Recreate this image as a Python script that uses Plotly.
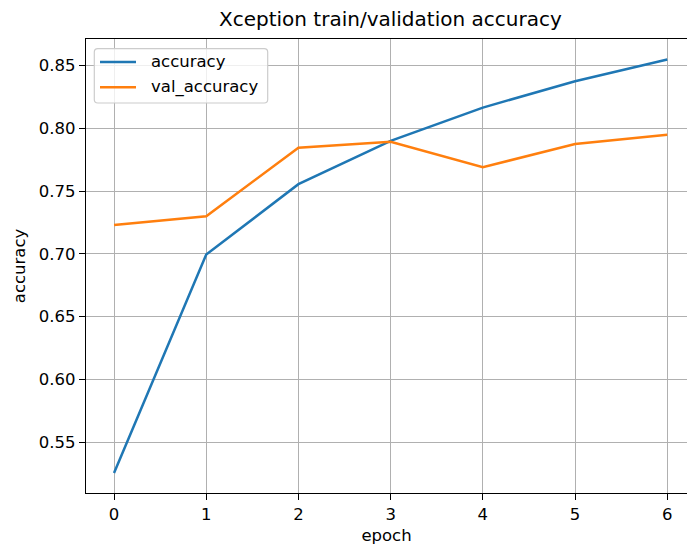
import plotly.graph_objects as go

epochs = [0, 1, 2, 3, 4, 5, 6]
accuracy = [0.5255, 0.6995, 0.7555, 0.7900, 0.8165, 0.8375, 0.8548]
val_accuracy = [0.7230, 0.7300, 0.7845, 0.7893, 0.7690, 0.7875, 0.7948]
x_ticks = [0, 1, 2, 3, 4, 5, 6]
y_ticks = [0.55, 0.60, 0.65, 0.70, 0.75, 0.80, 0.85]
series_names = ["accuracy", "val_accuracy"]
series_colors = ["#1f77b4", "#ff7f0e"]

FONT = "DejaVu Sans"
FS = 16.5
W, H = 687, 547
ML, MR, MT, MB = 86, 0, 39, 54
PW, PH = W - ML - MR, H - MT - MB


def px(xp):
    return (xp - ML) / PW


def py(yp):
    return (H - MB - yp) / PH


fig = go.Figure()
for name, vals, col in zip(series_names, [accuracy, val_accuracy], series_colors):
    fig.add_trace(go.Scatter(x=epochs, y=vals, mode="lines", name=name,
                             line=dict(color=col, width=2.5), showlegend=False))

# manual legend (matplotlib-like)
bx0, bx1, by0, by1, r = 94.3, 267.7, 48.7, 103.0, 3.5
rx, ry = r / PW, r / PH
X0, X1, Y0, Y1 = px(bx0), px(bx1), py(by1), py(by0)
path = (f"M {X0+rx},{Y0} L {X1-rx},{Y0} Q {X1},{Y0} {X1},{Y0+ry} "
        f"L {X1},{Y1-ry} Q {X1},{Y1} {X1-rx},{Y1} L {X0+rx},{Y1} "
        f"Q {X0},{Y1} {X0},{Y1-ry} L {X0},{Y0+ry} Q {X0},{Y0} {X0+rx},{Y0} Z")
shapes = [dict(type="path", xref="paper", yref="paper", path=path,
               fillcolor="rgba(255,255,255,0.8)", line=dict(color="#cccccc", width=1.2),
               layer="above")]
annotations = []
rows = [62.0, 87.3]
for name, col, ry_ in zip(series_names, series_colors, rows):
    shapes.append(dict(type="line", xref="paper", yref="paper",
                       x0=px(100), x1=px(136), y0=py(ry_), y1=py(ry_),
                       line=dict(color=col, width=2.5), layer="above"))
    annotations.append(dict(text=name, xref="paper", yref="paper",
                            x=px(149.3), y=py(ry_), xanchor="left", yanchor="middle",
                            showarrow=False, font=dict(family=FONT, size=FS, color="#000")))

annotations.append(dict(text="Xception train/validation accuracy", xref="paper", yref="paper",
                        x=px(390), y=1, xanchor="center", yanchor="bottom", yshift=6,
                        showarrow=False, font=dict(family=FONT, size=20, color="#000")))

fig.update_layout(
    width=W, height=H,
    margin=dict(l=ML, r=MR, t=MT, b=MB),
    paper_bgcolor="white", plot_bgcolor="white",
    font=dict(family=FONT, size=FS, color="#000"),
    showlegend=False,
    shapes=shapes,
    annotations=annotations,
)
fig.update_xaxes(
    range=[-0.304, 6.214], tickmode="array", tickvals=x_ticks,
    ticktext=[str(t) for t in x_ticks],
    showgrid=True, gridcolor="#b0b0b0", gridwidth=1.4,
    showline=True, linecolor="#000", linewidth=1.4, mirror=True,
    ticks="outside", ticklen=6, tickwidth=1.4, tickcolor="#000",
    zeroline=False,
    title=dict(text="epoch", standoff=6, font=dict(family=FONT, size=FS, color="#000")),
)
fig.update_yaxes(
    range=[0.5096, 0.8711], tickmode="array", tickvals=y_ticks,
    ticktext=[f"{t:.2f}" for t in y_ticks],
    showgrid=True, gridcolor="#b0b0b0", gridwidth=1.4,
    showline=True, linecolor="#000", linewidth=1.4, mirror=False,
    ticks="outside", ticklen=6, tickwidth=1.4, tickcolor="#000",
    zeroline=False,
    title=dict(text="accuracy", standoff=8, font=dict(family=FONT, size=FS, color="#000")),
)

fig.write_html("out.html")
